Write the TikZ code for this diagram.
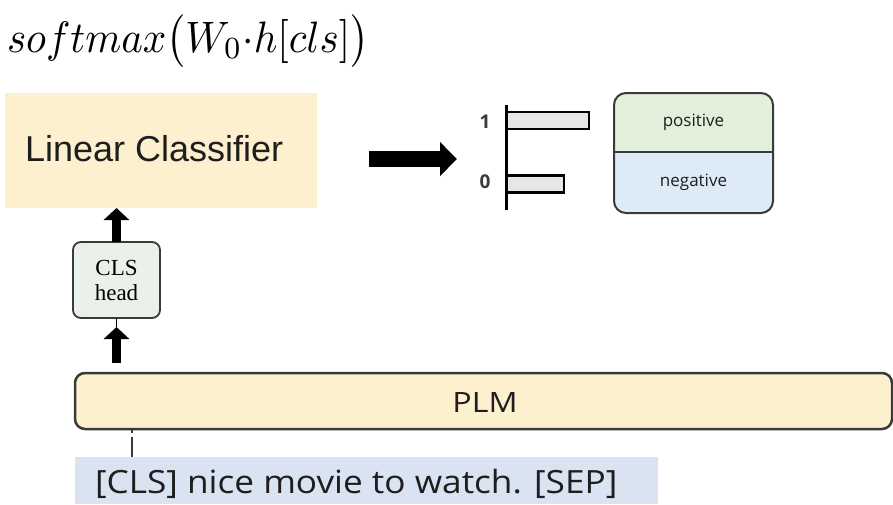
\documentclass[tikz,border=0pt]{standalone}
\usepackage{fontspec}
\newfontfamily\fArial{Liberation Sans}
\newfontfamily\fOpen{Open Sans}
\newfontfamily\fSerif{Liberation Serif}
\usetikzlibrary{arrows.meta}
\definecolor{peach}{HTML}{FDF0CF}
\definecolor{posgreen}{HTML}{E2EFDA}
\definecolor{negblue}{HTML}{DDEBF7}
\definecolor{inputblue}{HTML}{DAE3F1}
\definecolor{headgreen}{HTML}{EAF1EA}
\definecolor{edge}{HTML}{3A3A3A}
\definecolor{ink}{HTML}{1E1E1E}
\definecolor{barfill}{HTML}{E6E6E6}
\begin{document}
\begin{tikzpicture}[x=1pt,y=-1pt,
  every node/.style={inner sep=0pt, outer sep=0pt},
  fatarrow/.style={line width=9pt, -{Triangle[length=12pt,width=25pt]}},
  bigarrow/.style={line width=16pt, -{Triangle[length=17pt,width=33pt]}},
  bar/.style={draw=black, line width=2.5pt, fill=barfill, minimum height=17pt, anchor=west},
  axislabel/.style={font=\fOpen\bfseries\fontsize{19pt}{21pt}\selectfont, text=edge},
  classlabel/.style={font=\fOpen\fontsize{17pt}{19pt}\selectfont, text=ink},
  sansbig/.style={font=\fOpen\fontsize{32pt}{36pt}\selectfont, text=ink}]
\useasboundingbox (0,0) rectangle (893,504);

% formula
\node[anchor=base west] (sm) at (7,52) {\scalebox{4.1}[4.4]{$softmax\bigl(W_0{\cdot}h[cls]\bigr)$}};

% linear classifier
\node[fill=peach, minimum width=312pt, minimum height=115pt] (lin) at (161,150.5) {};
\node[anchor=base west, text=ink, font=\fArial\fontsize{36pt}{40pt}\selectfont] (lintext) at (25,161) {Linear Classifier};

% output arrow
\coordinate (ra) at (369,159);
\coordinate (rb) at (457,159);
\draw[bigarrow] (ra) -- (rb);

% bar chart
\coordinate (axt) at (506,105);
\coordinate (axb) at (506,210);
\node[bar, minimum width=82pt] (b1) at (507,120.5) {};
\node[bar, minimum width=57pt] (b0) at (507,184) {};
\draw[line width=3pt] (axt) -- (axb);
\node[axislabel] (l1) at (485,122) {1};
\node[axislabel] (l0) at (485,182) {0};

% class labels
\begin{scope}
  \clip[rounded corners=12pt] (614,93) rectangle (773,213);
  \node[fill=posgreen, minimum width=159pt, minimum height=59pt] (pos) at (693.5,122.5) {};
  \node[fill=negblue, minimum width=159pt, minimum height=61pt] (neg) at (693.5,182.5) {};
\end{scope}
\draw[edge, line width=2pt, rounded corners=12pt] (614,93) rectangle (773,213);
\draw[edge, line width=1.2pt] (pos.south west) -- (pos.south east);
\node[classlabel] (postext) at (pos.center) {positive};
\node[classlabel] (negtext) at (neg.center) {negative};

% CLS head
\node[draw=edge, line width=1.8pt, fill=headgreen, rounded corners=8pt,
      minimum width=87pt, minimum height=76pt, align=center,
      font=\fSerif\fontsize{23pt}{25pt}\selectfont] (head) at (116.5,280) {CLS\\head};

% PLM
\node[draw=edge, line width=2.5pt, fill=peach, rounded corners=10pt,
      minimum width=817pt, minimum height=56pt] (plm) at (483.5,401) {};
\node[font=\fOpen\fontsize{28pt}{32pt}\selectfont, text=ink] (plmtext) at (485,402) {\scalebox{1.15}[1]{PLM}};

% input sentence
\node[fill=inputblue, minimum width=583pt, minimum height=47pt, anchor=north west] (inp) at (75,457) {};
\node[anchor=base west, sansbig] (inptext) at (95,493) {\scalebox{1.1}[1]{[CLS] nice movie to watch. [SEP]}};

% connectors
\draw[fatarrow] (head.north) -- (head.north |- lin.south);
\draw[fatarrow, shorten <=10pt, shorten >=9pt] (plm.north -| head.south) -- (head.south);
\draw[line width=1.5pt] (head.south) -- ++(0,9);
\coordinate (dashx) at (132,0);
\draw[edge, line width=2pt, dash pattern=on 4pt off 4pt on 30pt] (plm.south -| dashx) -- (inp.north -| dashx);
\end{tikzpicture}
\end{document}
